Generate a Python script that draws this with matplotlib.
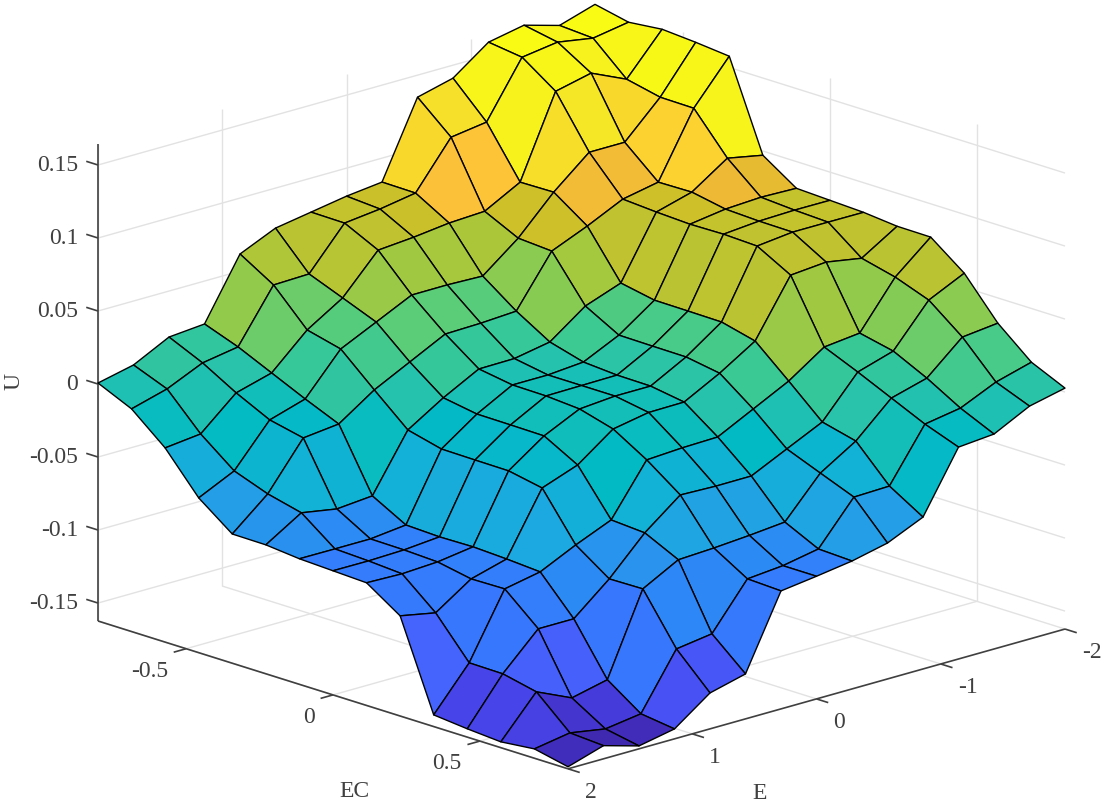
import numpy as np
import matplotlib
matplotlib.use('Agg')
import matplotlib.pyplot as plt
from matplotlib.colors import LinearSegmentedColormap, Normalize
from mpl_toolkits.mplot3d import proj3d

# surface U(E, EC): rows go along E, columns along EC
e_values = np.linspace(-2, 2, 15)
ec_values = np.linspace(-0.8, 0.8, 15)
u_rows = [
    [.1643, .1593, .1617, .1600, .1577, .0971, .0817, .0807, .0797, .0774, .0772, .0597, .0327, .0132, .0027],
    [.1567, .1552, .1343, .1292, .1289, .1019, .0824, .0808, .0798, .0623, .0566, .0481, .0300, .0064, -.0028],
    [.1637, .1593, .1453, .1052, .0851, .0855, .0811, .0801, .0798, .0665, .0251, .0200, .0087, -.0046, -.0151],
    [.1589, .1558, .1397, .1052, .0803, .0787, .0776, .0780, .0771, .0644, .0224, .0125, .0019, -.0087, -.0172],
    [.1411, .1182, .0843, .0847, .0687, .0369, .0324, .0322, .0319, .0261, .0059, -.0149, -.0207, -.0443, -.0583],
    [.1349, .1147, .0712, .0600, .0584, .0280, .0153, .0150, .0148, .0109, -.0064, -.0265, -.0358, -.0450, -.0692],
    [.0836, .0833, .0700, .0409, .0241, .0102, .0037, .0020, .0017, -.0020, -.0187, -.0382, -.0625, -.0737, -.0747],
    [.0808, .0792, .0671, .0417, .0227, .0057, .0017, .0017, .0017, -.0023, -.0193, -.0383, -.0648, -.0783, -.0783],
    [.0767, .0764, .0651, .0416, .0221, .0054, .0017, .0014, -.0003, -.0068, -.0207, -.0375, -.0666, -.0805, -.0815],
    [.0726, .0484, .0392, .0299, .0098, -.0075, -.0114, -.0116, -.0119, -.0246, -.0550, -.0566, -.0678, -.1113, -.1315],
    [.0617, .0477, .0241, .0183, -.0025, -.0227, -.0285, -.0288, -.0290, -.0335, -.0653, -.0813, -.0809, -.1148, -.1377],
    [.0206, .0121, .0015, -.0091, -.0190, -.0610, -.0737, -.0746, -.0742, -.0753, -.0769, -.1018, -.1363, -.1524, -.1555],
    [.0185, .0080, -.0053, -.0166, -.0217, -.0631, -.0764, -.0767, -.0777, -.0821, -.0817, -.1018, -.1419, -.1559, -.1603],
    [.0062, -.0030, -.0266, -.0447, -.0532, -.0589, -.0764, -.0774, -.0790, -.0985, -.1255, -.1258, -.1309, -.1518, -.1533],
    [.0007, -.0098, -.0293, -.0563, -.0738, -.0740, -.0763, -.0773, -.0783, -.0937, -.1543, -.1566, -.1583, -.1559, -.1609],
]
e_ticks = [-2, -1, 0, 1, 2]
ec_ticks = [-0.5, 0, 0.5]
u_ticks = [-0.15, -0.1, -0.05, 0, 0.05, 0.1, 0.15]
e_labels = ['-2', '-1', '0', '1', '2']
ec_labels = ['-0.5', '0', '0.5']
u_labels = ['-0.15', '-0.1', '-0.05', '0', '0.05', '0.1', '0.15']

# parula, every third entry or so
parula = [
    (0.2422, 0.1504, 0.6603), (0.2647, 0.1978, 0.7952), (0.2783, 0.2559, 0.8991),
    (0.2810, 0.3228, 0.9579), (0.2699, 0.3892, 0.9906), (0.2206, 0.4603, 0.9973),
    (0.1786, 0.5289, 0.9682), (0.1540, 0.5902, 0.9218), (0.1248, 0.6459, 0.8883),
    (0.0689, 0.6948, 0.8394), (0.0067, 0.7312, 0.7660), (0.1408, 0.7584, 0.6842),
    (0.2161, 0.7843, 0.5923), (0.3406, 0.8008, 0.4789), (0.5044, 0.7993, 0.3480),
    (0.6720, 0.7793, 0.2227), (0.8203, 0.7498, 0.1535), (0.9393, 0.7288, 0.2100),
    (0.9970, 0.7659, 0.2199), (0.9786, 0.8386, 0.1766), (0.9597, 0.9135, 0.1423),
    (0.9769, 0.9839, 0.0805),
]

GRID = '#e2e2e2'
DARK = '#404040'
Z_MIN, Z_MAX = -0.1623, 0.1644
W, H = 1107, 804

plt.rcParams['font.family'] = ['Liberation Serif', 'DejaVu Serif']
cmap = LinearSegmentedColormap.from_list('parula', parula, N=256)

fig = plt.figure(figsize=(W / 100, H / 100), dpi=100)
ax = fig.add_axes([0, 0, 1, 1], projection='3d', proj_type='ortho')
ax.computed_zorder = False
ax.set_axis_off()

u = np.array(u_rows)
e_grid, ec_grid = np.meshgrid(e_values, ec_values, indexing='ij')
colors = cmap(Normalize(u.min(), u.max())(u))
surf = ax.plot_surface(e_grid, ec_grid, u, facecolors=colors, rstride=1, cstride=1,
                       shade=False, edgecolor='black', linewidth=1.0, antialiased=True, zorder=5)
surf.set_clip_on(False)

e0, e1 = e_values[0], e_values[-1]
c0, c1 = ec_values[0], ec_values[-1]


def line(xs, ys, zs, color, lw, zorder):
    ax.plot(xs, ys, zs, color=color, lw=lw, zorder=zorder, clip_on=False, solid_capstyle='butt')


# grid on the floor and the two back walls
for t in e_ticks:
    line([t, t], [c0, c1], [Z_MIN, Z_MIN], GRID, 1.0, 1)
    line([t, t], [c0, c0], [Z_MIN, Z_MAX], GRID, 1.0, 1)
for t in ec_ticks:
    line([e0, e1], [t, t], [Z_MIN, Z_MIN], GRID, 1.0, 1)
    line([e0, e0], [t, t], [Z_MIN, Z_MAX], GRID, 1.0, 1)
for t in u_ticks:
    line([e0, e0], [c0, c1], [t, t], GRID, 1.0, 1)
    line([e0, e1], [c0, c0], [t, t], GRID, 1.0, 1)

# axis lines and ticks
line([e1, e1], [c0, c1], [Z_MIN, Z_MIN], DARK, 1.2, 2)
line([e0, e1], [c1, c1], [Z_MIN, Z_MIN], DARK, 1.2, 2)
line([e1, e1], [c0, c0], [Z_MIN, Z_MAX], DARK, 1.2, 2)
for t in e_ticks:
    line([t, t], [c1, c1 + 0.04], [Z_MIN, Z_MIN], DARK, 1.2, 2)
for t in ec_ticks:
    line([e1, e1 + 0.1], [t, t], [Z_MIN, Z_MIN], DARK, 1.2, 2)
for t in u_ticks:
    line([e1, e1], [c0, c0 - 0.04], [t, t], DARK, 1.2, 2)

ax.set_xlim(e0, e1, view_margin=0)
ax.set_ylim(c0, c1, view_margin=0)
ax.set_zlim(Z_MIN, Z_MAX, view_margin=0)
aspect = (684, 684, 499.6)
ax.view_init(elev=17.3, azim=46.6)
ax.set_box_aspect(aspect)


def pixel(x, y, z):
    fig.canvas.draw()
    xs, ys, _ = proj3d.proj_transform(x, y, z, ax.get_proj())
    return ax.transData.transform((xs, ys))


# fit the box to its place in the picture: scale first, then shift
left = pixel(e1, c0, Z_MIN)
right = pixel(e0, c1, Z_MIN)
ax.set_box_aspect(aspect, zoom=967 / (right[0] - left[0]))
left = pixel(e1, c0, Z_MIN)
box = ax.get_position(original=True)
ax.set_position([box.x0 + (98 - left[0]) / W, box.y0 + ((H - 622) - left[1]) / H, box.width, box.height])

TEXT = dict(color=DARK, fontsize=17, va='center_baseline')


def label(point, dx, dy, s, ha):
    # text sits a fixed number of pixels from its tick on the axis
    px, py = pixel(*point)
    fig.text((px + dx) / W, (py - dy) / H, s, ha=ha, **TEXT)


for t, s in zip(e_ticks, e_labels):
    label((t, c1, Z_MIN), 17, 20, s, 'left')
for t, s in zip(ec_ticks, ec_labels):
    label((e1, t, Z_MIN), -18, 19, s, 'right')
for t, s in zip(u_ticks, u_labels):
    label((e1, c0, t), -20, -3.5, s, 'right')

fig.text(354 / W, 1 - 789 / H, 'EC', ha='center', **TEXT)
fig.text(760 / W, 1 - 791 / H, 'E', ha='center', **TEXT)
fig.text(14 / W, 1 - 381 / H, 'U', ha='center', rotation=90, **TEXT)

fig.savefig('out.png', dpi=100)
